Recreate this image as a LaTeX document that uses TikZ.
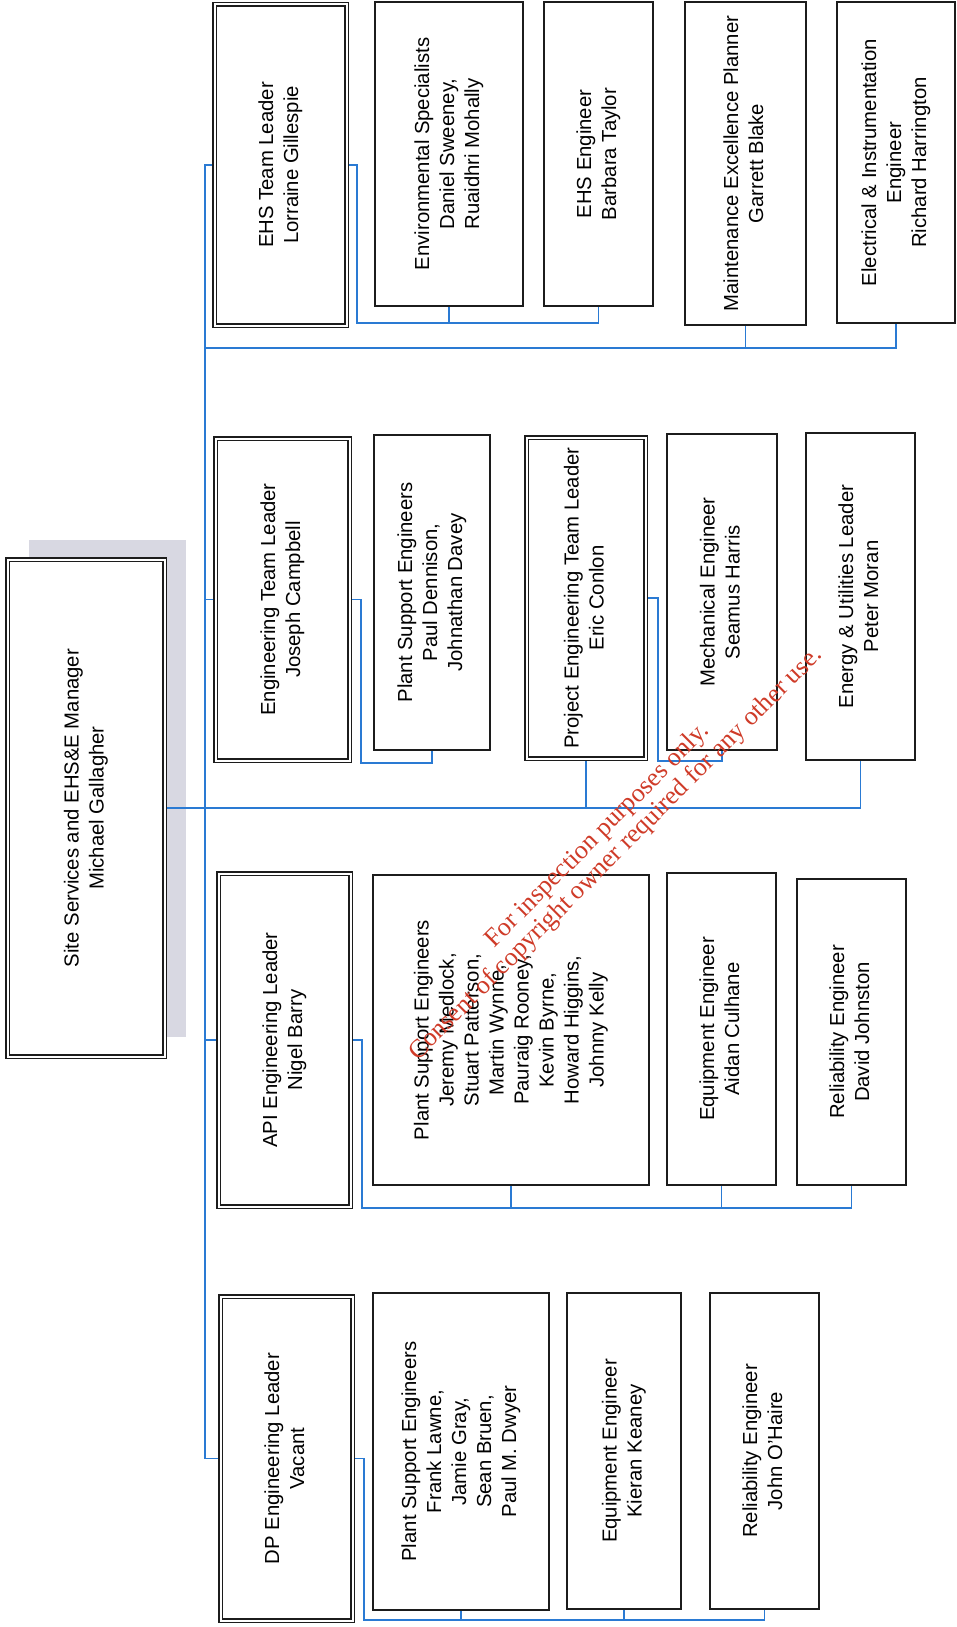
\documentclass[tikz,border=0pt]{standalone}
\usepackage{fontspec}
\setmainfont{Liberation Sans}
\newfontfamily\wmfont{Liberation Serif}
\usetikzlibrary{shadows}
\definecolor{lnblue}{HTML}{2A7AD3}
\definecolor{bxline}{HTML}{1C1C1C}
\definecolor{mshade}{HTML}{D8D8E2}
\definecolor{wmred}{HTML}{CF3B28}
\newcommand{\vtxt}[1]{\rotatebox{90}{\begin{tabular}{@{}c@{}}#1\end{tabular}}}

\begin{document}
\begin{tikzpicture}[x=1pt,y=-1pt,
    font=\fontsize{20.3}{25}\selectfont,
    pbox/.style={draw=bxline,line width=1.7pt,fill=white,inner sep=0pt},
    lbox/.style={pbox,double=white,double distance=2pt,line width=1.5pt,
                 outer sep=2.5pt},
    sz/.style 2 args={minimum width=#1,minimum height=#2},
    link/.style={lnblue,line width=1.5pt},
    wm/.style={font=\wmfont\fontsize{26}{26}\selectfont,text=wmred,
               align=center,rotate=45}
  ]
    \useasboundingbox (0,0) rectangle (957,1627);

    % Manager
    \node[lbox,sz={157}{497},
          drop shadow={shadow xshift=21pt,shadow yshift=20pt,
                       fill=mshade,opacity=1}]
      (mgr) at (86,808) {\vtxt{Site Services and EHS\&E Manager\\Michael Gallagher}};

    % EHS team
    \node[lbox,sz={132}{321}] (ehsl) at (280.5,165)
      {\vtxt{EHS Team Leader\\Lorraine Gillespie}};
    \node[pbox,sz={148}{304}] (env) at (449,154)
      {\vtxt{Environmental Specialists\\Daniel Sweeney,\\Ruaidhri Mohally}};
    \node[pbox,sz={109}{304}] (ehseng) at (598.5,154)
      {\vtxt{EHS Engineer\\Barbara Taylor}};
    \node[pbox,sz={121}{323}] (maint) at (745.5,163.5)
      {\vtxt{Maintenance Excellence Planner\\Garrett Blake}};
    \node[pbox,sz={118}{321}] (elec) at (896,162.5)
      {\vtxt{Electrical \& Instrumentation\\Engineer\\Richard Harrington}};

    % Engineering team
    \node[lbox,sz={134}{322}] (engl) at (282.5,599.5)
      {\vtxt{Engineering Team Leader\\Joseph Campbell}};
    \node[pbox,sz={116}{315}] (pse1) at (432,592.5)
      {\vtxt{Plant Support Engineers\\Paul Dennison,\\Johnathan Davey}};
    \node[lbox,sz={119}{321}] (prjl) at (586,598)
      {\vtxt{Project Engineering Team Leader\\Eric Conlon}};
    \node[pbox,sz={110}{316}] (mech) at (722,592)
      {\vtxt{Mechanical Engineer\\Seamus Harris}};
    \node[pbox,sz={109}{327}] (nrg) at (860.5,596.5)
      {\vtxt{Energy \& Utilities Leader\\Peter Moran}};

    % API team
    \node[lbox,sz={132}{333}] (apil) at (284.5,1040)
      {\vtxt{API Engineering Leader\\Nigel Barry}};
    \node[pbox,sz={276}{310}] (pse2) at (511,1030)
      {\vtxt{Plant Support Engineers\\Jeremy Medlock,\\Stuart Patterson,\\Martin Wynne,\\Pauraig Rooney,\\Kevin Byrne,\\Howard Higgins,\\Johnny Kelly}};
    \node[pbox,sz={109}{312}] (equ1) at (721.5,1029)
      {\vtxt{Equipment Engineer\\Aidan Culhane}};
    \node[pbox,sz={109}{306}] (rel1) at (851.5,1032)
      {\vtxt{Reliability Engineer\\David Johnston}};

    % DP team
    \node[lbox,sz={132}{324}] (dpl) at (286.5,1458.5)
      {\vtxt{DP Engineering Leader\\Vacant}};
    \node[pbox,sz={176}{317}] (pse3) at (461,1451.5)
      {\vtxt{Plant Support Engineers\\Frank Lawne,\\Jamie Gray,\\Sean Bruen,\\Paul M. Dwyer}};
    \node[pbox,sz={114}{316}] (equ2) at (624,1451)
      {\vtxt{Equipment Engineer\\Kieran Keaney}};
    \node[pbox,sz={109}{316}] (rel2) at (764.5,1451)
      {\vtxt{Reliability Engineer\\John O'Haire}};

    % Trunk and buses
    \coordinate (trk) at (205,0);
    \coordinate (ehsbus) at (0,348);
    \draw[link] (ehsl.west) -- (ehsl.west -| trk) |- (dpl.west);
    \draw[link] (engl.west) -- (engl.west -| trk);
    \draw[link] (apil.west) -- (apil.west -| trk);
    \draw[link] (mgr.east) -| (nrg.south);
    \draw[link] (prjl.south) -- (prjl.south |- mgr.east);
    \draw[link] (trk |- ehsbus) -| (elec.south);
    \draw[link] (maint.south) -- (maint.south |- ehsbus);

    % Leader to staff
    \draw[link] (ehsl.east) -- ++(8,0) |- ([yshift=-16pt]ehseng.south) -- (ehseng.south);
    \draw[link] (env.south) -- ++(0,16);
    \draw[link] (engl.east) -- ++(9,0) |- ([yshift=-12pt]pse1.south) -- (pse1.south);
    \draw[link] (prjl.east) -- ++(10,0) |- ([yshift=-10pt]mech.south) -- (mech.south);
    \draw[link] (apil.east) -- ++(9,0) |- ([yshift=-22pt]rel1.south) -- (rel1.south);
    \draw[link] (pse2.south) -- ++(0,22);
    \draw[link] (equ1.south) -- ++(0,22);
    \draw[link] (dpl.east) -- ++(9,0) |- ([yshift=-10pt]rel2.south) -- (rel2.south);
    \draw[link] (pse3.south) -- ++(0,10);
    \draw[link] (equ2.south) -- ++(0,10);

    % Watermark
    \node[wm] (wmark) at (607,845)
      {For inspection purposes only.\\Consent of copyright owner required for any other use.};

  \end{tikzpicture}
\end{document}
